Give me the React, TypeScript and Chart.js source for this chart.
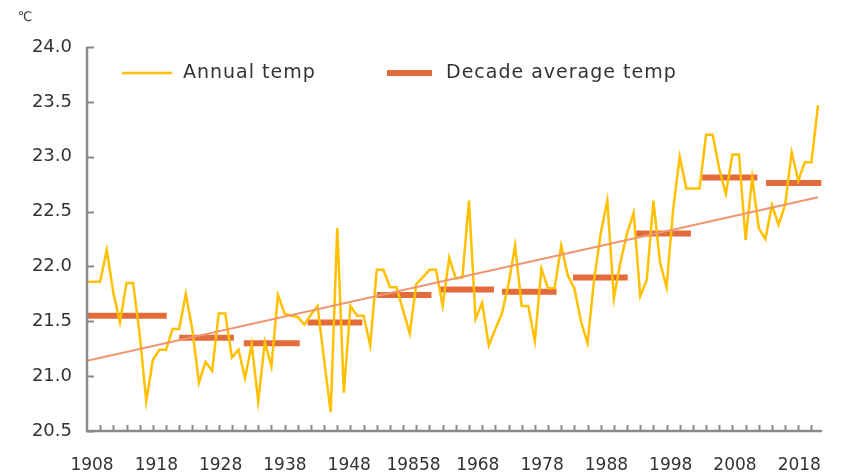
import React, { useEffect, useRef } from 'react';
import { Chart, registerables } from 'chart.js';

Chart.register(...registerables);

// ---- data ----
const startYear = 1908;
const annualTemp: number[] = [
  // 1908-1917
  21.86, 21.86, 21.86, 22.15, 21.76, 21.49, 21.85, 21.85, 21.38, 20.77,
  // 1918-1927
  21.15, 21.24, 21.24, 21.43, 21.43, 21.75, 21.42, 20.94, 21.13, 21.05,
  // 1928-1937
  21.57, 21.57, 21.17, 21.24, 20.98, 21.29, 20.77, 21.31, 21.09, 21.74,
  // 1938-1947
  21.57, 21.55, 21.54, 21.47, 21.56, 21.64, 21.15, 20.67, 22.35, 20.85,
  // 1948-1957
  21.64, 21.55, 21.55, 21.28, 21.97, 21.97, 21.81, 21.81, 21.6, 21.39,
  // 1958-1967
  21.84, 21.9, 21.97, 21.97, 21.64, 22.08, 21.89, 21.9, 22.6, 21.52,
  // 1968-1977
  21.67, 21.28, 21.43, 21.57, 21.84, 22.19, 21.64, 21.64, 21.32, 21.98,
  // 1978-1987
  21.8, 21.8, 22.19, 21.92, 21.8, 21.5, 21.3, 21.88, 22.3, 22.6,
  // 1988-1997
  21.71, 22.04, 22.3, 22.49, 21.73, 21.88, 22.6, 22.04, 21.81, 22.52,
  // 1998-2007
  23.0, 22.71, 22.71, 22.71, 23.2, 23.2, 22.89, 22.66, 23.02, 23.02,
  // 2008-2017
  22.24, 22.81, 22.35, 22.25, 22.56, 22.38, 22.56, 23.04, 22.78, 22.95,
  // 2018-2019
  22.95, 23.47,
];
const years: number[] = annualTemp.map((_, i) => startYear + i);

const decadeStart = [1908, 1922, 1931.8, 1941.5, 1952, 1961.6, 1971, 1981.8, 1991.3, 2001.4, 2011.1];
const decadeEnd = [1920.1, 1930.3, 1940.3, 1949.8, 1960.3, 1969.8, 1979.3, 1990.1, 1999.7, 2009.8, 2019.5];
const decadeAvg = [21.55, 21.35, 21.3, 21.49, 21.74, 21.79, 21.77, 21.9, 22.3, 22.81, 22.76];

const trendYears = [1908, 2019];
const trendTemp = [21.14, 22.63];

const labelYears = [1908, 1918, 1928, 1938, 1948, 1958, 1968, 1978, 1988, 1998, 2008, 2018];
const labelTexts = ['1908', '1918', '1928', '1938', '1948', '19858', '1968', '1978', '1988', '1998', '2008', '2018'];
const yTicks = [20.5, 21.0, 21.5, 22.0, 22.5, 23.0, 23.5, 24.0];
const minorTickYears: number[] = [];
for (let y = 1910; y <= 2018; y += 2) minorTickYears.push(y);

const seriesNames = ['Annual temp', 'Decade average temp'];
const unitLabel = '℃';

const YELLOW = '#FFC000';
const ORANGE = '#E36C3D';
const TREND = '#EE9670';
const AXIS = '#8A8A8A';
const TEXT = '#333333';
const FONT = "'DejaVu Sans', sans-serif";

const extrasPlugin = {
  id: 'extras',
  afterDraw(chart: any) {
    const { ctx, chartArea, scales } = chart;
    const xs = scales.x;
    const ys = scales.y;
    ctx.save();
    // axis lines
    ctx.strokeStyle = AXIS;
    ctx.lineWidth = 2.5;
    ctx.lineCap = 'butt';
    ctx.beginPath();
    ctx.moveTo(chartArea.left, chartArea.top);
    ctx.lineTo(chartArea.left, chartArea.bottom);
    ctx.lineTo(chartArea.right, chartArea.bottom);
    ctx.stroke();
    // inward tick marks
    ctx.lineWidth = 2;
    ctx.beginPath();
    for (const v of yTicks) {
      const py = Math.round(ys.getPixelForValue(v)) + 0.5;
      ctx.moveTo(chartArea.left, py);
      ctx.lineTo(chartArea.left + 7, py);
    }
    for (const v of minorTickYears) {
      const px = Math.round(xs.getPixelForValue(v)) + 0.5;
      ctx.moveTo(px, chartArea.bottom);
      ctx.lineTo(px, chartArea.bottom - 6);
    }
    ctx.stroke();

    // unit label
    ctx.fillStyle = TEXT;
    ctx.font = `13px ${FONT}`;
    ctx.textAlign = 'center';
    ctx.textBaseline = 'middle';
    ctx.fillText(unitLabel, chartArea.left - 62, chartArea.top - 29);

    // legend
    const ly = chartArea.top + 26;
    ctx.strokeStyle = YELLOW;
    ctx.lineWidth = 2.5;
    ctx.beginPath();
    ctx.moveTo(chartArea.left + 35, ly);
    ctx.lineTo(chartArea.left + 85, ly);
    ctx.stroke();
    ctx.strokeStyle = ORANGE;
    ctx.lineWidth = 6;
    ctx.beginPath();
    ctx.moveTo(chartArea.left + 300, ly);
    ctx.lineTo(chartArea.left + 345, ly);
    ctx.stroke();
    ctx.font = `19px ${FONT}`;
    (ctx as any).letterSpacing = '1px';
    ctx.textAlign = 'left';
    ctx.fillStyle = TEXT;
    ctx.fillText(seriesNames[0], chartArea.left + 96, ly);
    ctx.fillText(seriesNames[1], chartArea.left + 359, ly);
    (ctx as any).letterSpacing = '0px';
    ctx.restore();
  },
};

export default function App() {
  const canvasRef = useRef<HTMLCanvasElement | null>(null);

  useEffect(() => {
    if (!canvasRef.current) return;
    const annualData = years.map((y, i) => ({ x: y, y: annualTemp[i] }));
    const decadeData: any[] = [];
    decadeAvg.forEach((v, i) => {
      decadeData.push({ x: decadeStart[i], y: v });
      decadeData.push({ x: decadeEnd[i], y: v });
      decadeData.push({ x: decadeEnd[i] + 0.01, y: null });
    });
    const trendData = trendYears.map((y, i) => ({ x: y, y: trendTemp[i] }));

    const chart = new Chart(canvasRef.current, {
      type: 'line',
      data: {
        datasets: [
          {
            label: 'Trend',
            data: trendData,
            borderColor: TREND,
            borderWidth: 2,
            pointRadius: 0,
            order: 0,
            xAxisID: 'x',
            yAxisID: 'y',
          },
          {
            label: seriesNames[0],
            data: annualData,
            borderColor: YELLOW,
            borderWidth: 2.5,
            pointRadius: 0,
            tension: 0,
            order: 1,
            xAxisID: 'x',
            yAxisID: 'y',
          },
          {
            label: seriesNames[1],
            data: decadeData,
            borderColor: ORANGE,
            borderWidth: 6,
            borderCapStyle: 'butt',
            pointRadius: 0,
            spanGaps: false,
            order: 2,
            xAxisID: 'x',
            yAxisID: 'y',
          },
        ],
      },
      options: {
        animation: false,
        responsive: false,
        devicePixelRatio: 1,
        layout: { padding: { top: 47, right: 42, left: 0, bottom: 0 } },
        plugins: {
          legend: { display: false },
          tooltip: { enabled: false },
        },
        scales: {
          x: {
            type: 'linear',
            display: false,
            min: 1908,
            max: 2019.6,
          },
          xl: {
            type: 'linear',
            position: 'bottom',
            min: 1907.22,
            max: 2021.53,
            grid: { display: false, drawTicks: false },
            border: { display: false },
            afterBuildTicks: (scale: any) => {
              scale.ticks = labelYears.map((v) => ({ value: v }));
            },
            afterFit: (scale: any) => {
              scale.height = 45;
            },
            ticks: {
              autoSkip: false,
              maxRotation: 0,
              padding: 24,
              color: TEXT,
              font: { family: FONT, size: 17 },
              callback: (_v: any, i: number) => labelTexts[i],
            },
          },
          y: {
            type: 'linear',
            min: 20.5,
            max: 24,
            grid: { display: false, drawTicks: false },
            border: { display: false },
            afterBuildTicks: (scale: any) => {
              scale.ticks = yTicks.map((v) => ({ value: v }));
            },
            afterFit: (scale: any) => {
              scale.width = 87;
            },
            ticks: {
              padding: 15,
              color: TEXT,
              font: { family: FONT, size: 18 },
              callback: (v: any) => Number(v).toFixed(1),
            },
          },
        },
      },
      plugins: [extrasPlugin],
    } as any);

    return () => chart.destroy();
  }, []);

  return (
    <div style={{ position: 'fixed', left: 0, top: 0, width: 864, height: 476, background: '#ffffff' }}>
      <canvas ref={canvasRef} width={864} height={476} style={{ display: 'block', width: 864, height: 476 }} />
    </div>
  );
}
